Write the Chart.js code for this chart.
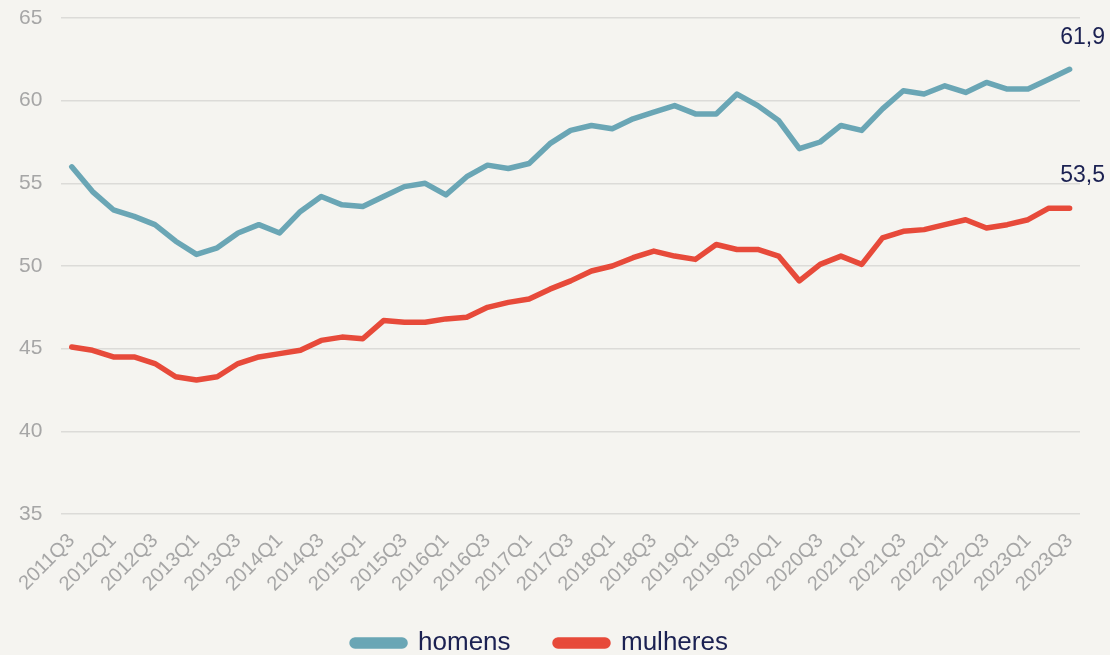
<!DOCTYPE html>
<html>
<head>
<meta charset="utf-8">
<script src="https://cdn.jsdelivr.net/npm/chart.js@4/dist/chart.umd.min.js"></script>
<style>
  html, body { margin: 0; padding: 0; background: #f5f4f0; overflow: hidden; }
  #wrap { width: 1110px; height: 666px; position: relative; }
</style>
</head>
<body>
<div id="wrap"><canvas id="taxaChart"></canvas></div>
<script>
// trimestres 2011Q3 .. 2023Q3
var quarters = [];
for (var y = 2011; y <= 2023; y++) {
   for (var q = 1; q <= 4; q++) {
      if ((y == 2011 && q < 3) || (y == 2023 && q > 3)) continue;
      quarters.push(y + 'Q' + q);
   }
}

var homens = [56.0, 54.5, 53.4, 53.0, 52.5, 51.5, 50.7, 51.1, 52.0, 52.5,
              52.0, 53.3, 54.2, 53.7, 53.6, 54.2, 54.8, 55.0, 54.3, 55.4,
              56.1, 55.9, 56.2, 57.4, 58.2, 58.5, 58.3, 58.9, 59.3, 59.7,
              59.2, 59.2, 60.4, 59.7, 58.8, 57.1, 57.5, 58.5, 58.2, 59.5,
              60.6, 60.4, 60.9, 60.5, 61.1, 60.7, 60.7, 61.3, 61.9];

var mulheres = [45.1, 44.9, 44.5, 44.5, 44.1, 43.3, 43.1, 43.3, 44.1, 44.5,
                44.7, 44.9, 45.5, 45.7, 45.6, 46.7, 46.6, 46.6, 46.8, 46.9,
                47.5, 47.8, 48.0, 48.6, 49.1, 49.7, 50.0, 50.5, 50.9, 50.6,
                50.4, 51.3, 51.0, 51.0, 50.6, 49.1, 50.1, 50.6, 50.1, 51.7,
                52.1, 52.2, 52.5, 52.8, 52.3, 52.5, 52.8, 53.5, 53.5];

var yTicks = [35, 40, 45, 50, 55, 60, 65];

var gray = '#a6a6a6';
var navy = '#1b2152';

// last value label, e.g. "61,9"
var lastLabels = {
   id: 'lastLabels',
   afterDatasetsDraw: function(chart) {
      var ctx = chart.ctx;
      ctx.save();
      ctx.font = '23px "Liberation Sans", Arial, sans-serif';
      ctx.fillStyle = navy;
      ctx.textAlign = 'center';
      ctx.textBaseline = 'middle';
      chart.data.datasets.forEach(function(ds, i) {
         var pts = chart.getDatasetMeta(i).data;
         var last = pts[pts.length - 1];
         var v = ds.data[ds.data.length - 1];
         ctx.fillText(v.toFixed(1).replace('.', ','), last.x + 13, last.y - 32);
      });
      ctx.restore();
   }
};

Chart.defaults.font.family = '"Liberation Sans", Arial, sans-serif';

var chart = new Chart(document.getElementById('taxaChart').getContext('2d'), {
   type: 'line',
   data: {
      labels: quarters,
      datasets: [{
         label: 'homens',
         data: homens,
         borderColor: '#6aa6b5',
         backgroundColor: '#6aa6b5',
         borderWidth: 5.5,
         borderJoinStyle: 'round',
         borderCapStyle: 'round',
         pointRadius: 0,
         tension: 0
      }, {
         label: 'mulheres',
         data: mulheres,
         borderColor: '#e74a3a',
         backgroundColor: '#e74a3a',
         borderWidth: 5.5,
         borderJoinStyle: 'round',
         borderCapStyle: 'round',
         pointRadius: 0,
         tension: 0
      }]
   },
   options: {
      responsive: true,
      maintainAspectRatio: false,
      animation: false,
      layout: { padding: { top: 18, right: 30, left: 0, bottom: 0 } },
      scales: {
         x: {
            offset: true,
            grid: { display: false },
            border: { display: false },
            afterFit: function(scale) {
               scale.paddingTop = 0;
               scale.paddingBottom = 0;
               scale.height = 86;
            },
            ticks: {
               color: gray,
               font: { size: 20 },
               autoSkip: false,
               minRotation: 45,
               maxRotation: 45,
               padding: 7,
               callback: function(val, idx) {
                  return idx % 2 == 0 ? this.getLabelForValue(val) : '';
               }
            }
         },
         y: {
            min: 35,
            max: 65,
            afterBuildTicks: function(axis) {
               axis.ticks = yTicks.map(function(v) { return { value: v }; });
            },
            afterFit: function(scale) {
               scale.paddingTop = 0;
               scale.paddingBottom = 0;
            },
            grid: { color: '#dcdbd8', lineWidth: 1.5, drawTicks: false },
            border: { display: false },
            ticks: {
               color: gray,
               font: { size: 21 },
               padding: 19
            }
         }
      },
      plugins: {
         legend: {
            position: 'bottom',
            labels: {
               color: navy,
               font: { size: 26 },
               boxWidth: 53,
               boxHeight: 6,
               useBorderRadius: true,
               borderRadius: 3,
               padding: 30,
               generateLabels: function(chart) {
                  var items = Chart.defaults.plugins.legend.labels.generateLabels(chart);
                  // a bit more room between the two entries
                  items[0].text = items[0].text + '  ';
                  return items;
               }
            }
         },
         tooltip: { enabled: false }
      }
   },
   plugins: [lastLabels]
});
</script>
</body>
</html>
